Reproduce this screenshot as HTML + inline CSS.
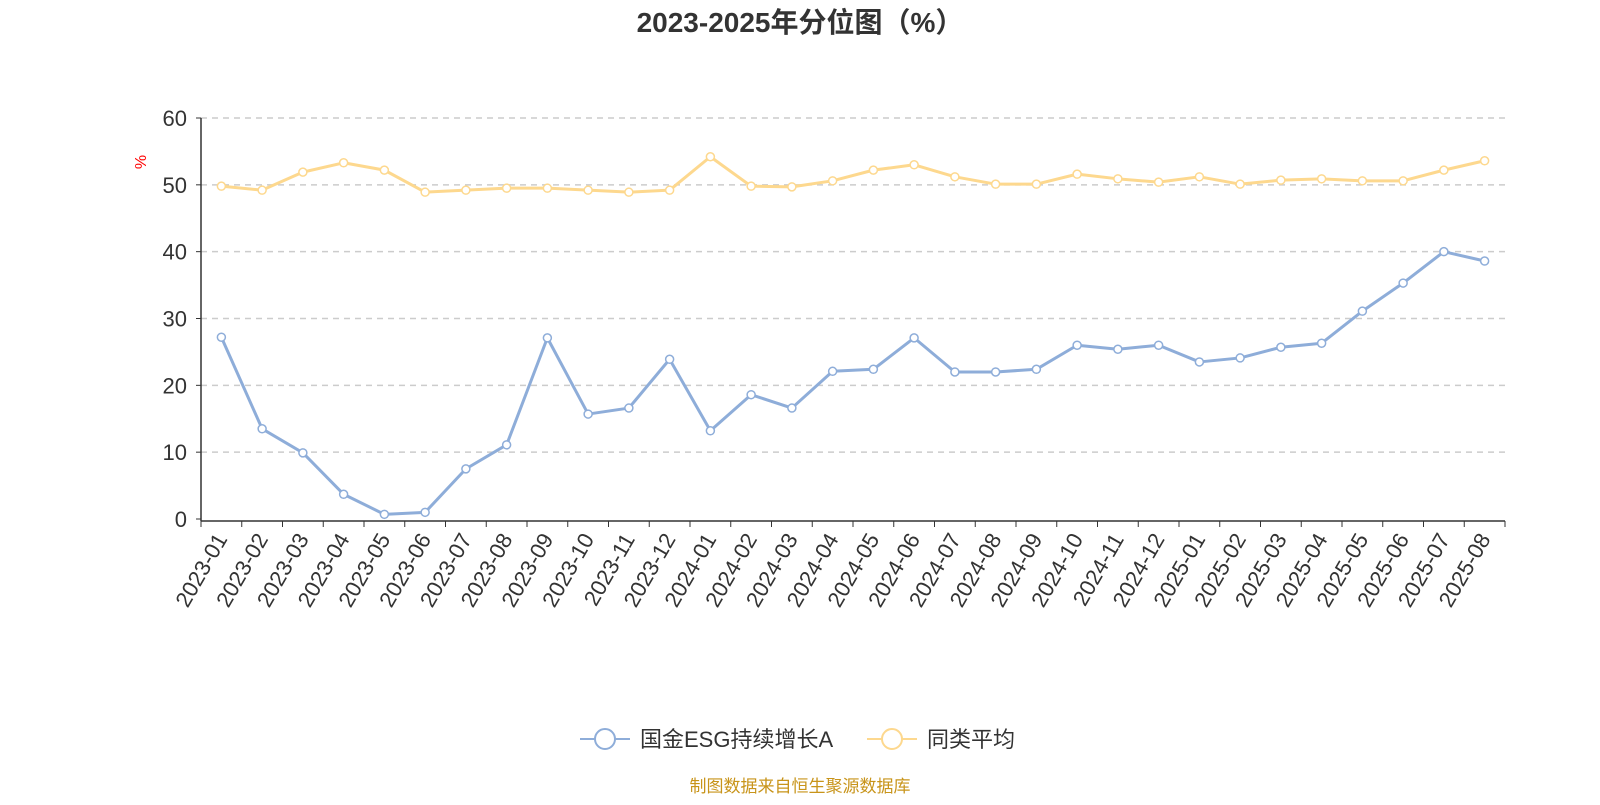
<!DOCTYPE html>
<html><head><meta charset="utf-8"><style>
body{margin:0;background:#fff;width:1600px;height:800px;overflow:hidden}
svg{font-family:"Liberation Sans","Noto Sans CJK SC",sans-serif}
</style></head><body>
<svg id="c" width="1600" height="800">
<text x="800" y="32" text-anchor="middle" font-size="28" font-weight="bold" fill="#333">2023-2025年分位图（%）</text>
<text x="0" y="0" transform="translate(146,162) rotate(-90)" text-anchor="middle" font-size="16" fill="red">%</text>
<g id="grid"></g><g id="axes"></g><g id="series"></g>
<g>
<g><line x1="580" y1="739" x2="630" y2="739" stroke="#8eadd9" stroke-width="2"/><circle cx="605" cy="739" r="10" fill="#fff" stroke="#8eadd9" stroke-width="2"/><text x="640" y="747" font-size="22" fill="#333">国金ESG持续增长A</text></g>
<g><line x1="867" y1="739" x2="917" y2="739" stroke="#fdd88e" stroke-width="2"/><circle cx="892" cy="739" r="10" fill="#fff" stroke="#fdd88e" stroke-width="2"/><text x="927" y="747" font-size="22" fill="#333">同类平均</text></g>
</g>
<text x="800" y="792" text-anchor="middle" font-size="17" fill="#c8941a">制图数据来自恒生聚源数据库</text>
</svg>
<script>
const categories=["2023-01","2023-02","2023-03","2023-04","2023-05","2023-06","2023-07","2023-08","2023-09","2023-10","2023-11","2023-12","2024-01","2024-02","2024-03","2024-04","2024-05","2024-06","2024-07","2024-08","2024-09","2024-10","2024-11","2024-12","2025-01","2025-02","2025-03","2025-04","2025-05","2025-06","2025-07","2025-08"];
const fundValues=[27.2,13.5,9.9,3.7,0.7,1.0,7.5,11.1,27.1,15.7,16.6,23.9,13.2,18.6,16.6,22.1,22.4,27.1,22.0,22.0,22.4,26.0,25.4,26.0,23.5,24.1,25.7,26.3,31.1,35.3,40.0,38.6];
const peerValues=[49.8,49.2,51.9,53.3,52.2,48.9,49.2,49.5,49.5,49.2,48.9,49.2,54.2,49.8,49.7,50.6,52.2,53.0,51.2,50.1,50.1,51.6,50.9,50.4,51.2,50.1,50.7,50.9,50.6,50.6,52.2,53.6];
const yTicks=[0,10,20,30,40,50,60];
const NS="http://www.w3.org/2000/svg";
const X0=201,X1=1505,Y0=519,Y1=118,YMAX=60;
const bw=(X1-X0)/categories.length;
const xs=i=>X0+bw*(i+0.5);
const ys=v=>Y0-(v/YMAX)*(Y0-Y1);
function mk(t,a,p){const e=document.createElementNS(NS,t);for(const k in a)e.setAttribute(k,a[k]);p.appendChild(e);return e;}
const grid=document.getElementById('grid'),axes=document.getElementById('axes'),ser=document.getElementById('series');
yTicks.forEach(v=>{
 if(v>0){const g=mk('line',{x1:X0,x2:X1,y1:ys(v),y2:ys(v),stroke:'#ccc','stroke-dasharray':'6,5','stroke-width':1.5},grid);
 
 }
 const t=mk('text',{x:X0-14,y:ys(v)+8,'text-anchor':'end','font-size':22,fill:'#333'},axes);t.textContent=v;
 
 
 mk('line',{x1:X0-5,x2:X0,y1:ys(v),y2:ys(v),stroke:'#333'},axes);
});
const ya=mk('line',{x1:X0,x2:X0,y1:Y1,y2:Y0+2,stroke:'#333','stroke-width':1.5},axes);


const xa=mk('line',{x1:X0,x2:X1,y1:Y0+2,y2:Y0+2,stroke:'#333','stroke-width':1.5},axes);


for(let i=0;i<=categories.length;i++)mk('line',{x1:X0+bw*i,x2:X0+bw*i,y1:Y0+2,y2:Y0+8,stroke:'#333'},axes);
categories.forEach((c,i)=>{
 const x=xs(i),y=Y0+16;
 const t=mk('text',{x:x,y:y,'text-anchor':'end','font-size':22,fill:'#333',transform:`rotate(-60 ${x} ${y})`,dy:'0.35em'},axes);
 t.textContent=c;
 
 
});
function series(vals,col,name){
 const g=mk('g',{},ser);
 
 
 const p=mk('polyline',{points:vals.map((v,i)=>xs(i)+','+ys(v)).join(' '),fill:'none',stroke:col,'stroke-width':3,'stroke-linejoin':'round'},g);
 
 
 vals.forEach((v,i)=>{const c=mk('circle',{cx:xs(i),cy:ys(v),r:4,fill:'#fff',stroke:col,'stroke-width':1.5},g);
 
 });
}
series(peerValues,'#fdd88e','peer-average-series');
series(fundValues,'#8eadd9','fund-series');
</script>
</body></html>
